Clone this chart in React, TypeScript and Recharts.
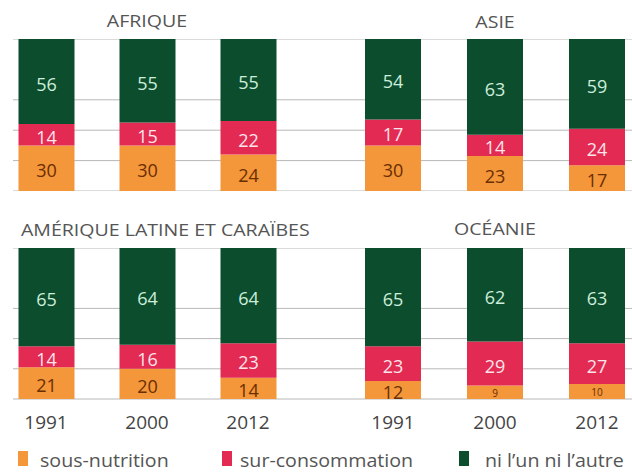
import React from "react";
import { Bar, BarChart, CartesianGrid, LabelList, XAxis, YAxis } from "recharts";

const years = ["1991", "2000", "2012"];

const afriqueSous = [30, 30, 24];
const afriqueSur = [14, 15, 22];
const afriqueNi = [56, 55, 55];

const asieSous = [30, 23, 17];
const asieSur = [17, 14, 24];
const asieNi = [54, 63, 59];

const ameriqueSous = [21, 20, 14];
const ameriqueSur = [14, 16, 23];
const ameriqueNi = [65, 64, 64];

const oceanieSous = [12, 9, 10];
const oceanieSur = [23, 29, 27];
const oceanieNi = [65, 62, 63];

const legendLabels = ["sous-nutrition", "sur-consommation", "ni l\u2019un ni l\u2019autre"];
const yTicks = [0, 20, 40, 60, 80, 100];

const ORANGE = "#f4963a";
const RED = "#e22a52";
const GREEN = "#0b4d2c";
const FONT = "'Open Sans', sans-serif";

const buildRows = (sous: number[], sur: number[], ni: number[]) =>
  years.map((year, i) => ({ year, sous: sous[i], sur: sur[i], ni: ni[i] }));

const segmentLabel = (color: string) => (props: any) => {
  const vb = props.viewBox || {};
  const x = props.x ?? vb.x;
  const y = props.y ?? vb.y;
  const w = props.width ?? vb.width;
  const h = props.height ?? vb.height;
  const small = props.value < 11;
  return (
    <text
      x={x + w / 2}
      y={y + h / 2}
      dy={small ? 1 : 2}
      textAnchor="middle"
      dominantBaseline="central"
      fontFamily={FONT}
      fontSize={small ? 10 : 18}
      fill={color}
    >
      {props.value}
    </text>
  );
};

interface PanelProps {
  sous: number[];
  sur: number[];
  ni: number[];
  left: number;
  top: number;
  width: number;
  plotHeight: number;
  padLeft: number;
  padRight: number;
  showYears: boolean;
}

function Panel({ sous, sur, ni, left, top, width, plotHeight, padLeft, padRight, showYears }: PanelProps) {
  const axisH = showYears ? 40 : 0;
  return (
    <div style={{ position: "absolute", left, top }}>
      <BarChart
        width={width}
        height={plotHeight + axisH}
        data={buildRows(sous, sur, ni)}
        margin={{ top: 0, right: 0, left: 0, bottom: 0 }}
        barSize={56}
      >
        <CartesianGrid stroke="#b8b8b8" strokeWidth={1} vertical={false} />
        <XAxis
          dataKey="year"
          hide={!showYears}
          height={axisH}
          padding={{ left: padLeft, right: padRight }}
          axisLine={false}
          tickLine={false}
          tickMargin={11}
          tick={{ fill: "#444", fontSize: 19, fontFamily: FONT }}
        />
        <YAxis hide domain={[0, 100]} ticks={yTicks} allowDataOverflow />
        <Bar dataKey="sous" stackId="a" fill={ORANGE} isAnimationActive={false}>
          <LabelList dataKey="sous" content={segmentLabel("#6a2e00")} />
        </Bar>
        <Bar dataKey="sur" stackId="a" fill={RED} isAnimationActive={false}>
          <LabelList dataKey="sur" content={segmentLabel("#fde4ea")} />
        </Bar>
        <Bar dataKey="ni" stackId="a" fill={GREEN} isAnimationActive={false}>
          <LabelList dataKey="ni" content={segmentLabel("#cdeedb")} />
        </Bar>
      </BarChart>
    </div>
  );
}

const textStyle: React.CSSProperties = {
  position: "absolute",
  fontFamily: FONT,
  fontSize: 17,
  color: "#555",
  whiteSpace: "nowrap",
  lineHeight: "20px",
};

const centred: React.CSSProperties = {
  transform: "translateX(-50%) scaleX(1.15)",
};
const stretched: React.CSSProperties = {
  transform: "scaleX(1.15)",
  transformOrigin: "left center",
};
const legendText: React.CSSProperties = {
  fontSize: 18,
  lineHeight: "22px",
  transform: "scaleX(1.09)",
  transformOrigin: "left center",
};

const legendColors = [ORANGE, RED, GREEN];
const legendSquareX = [18, 222, 459];
const legendTextX = [40, 240, 485];

export default function App() {
  return (
    <div
      style={{
        position: "absolute",
        left: 0,
        top: 0,
        width: 632,
        height: 473,
        overflow: "hidden",
        background: "#fff",
      }}
    >
      <div style={{ ...textStyle, ...centred, left: 147, top: 11 }}>AFRIQUE</div>
      <div style={{ ...textStyle, ...centred, left: 495, top: 12 }}>ASIE</div>
      <div style={{ ...textStyle, ...stretched, left: 21, top: 220 }}>AMÉRIQUE LATINE ET CARAÏBES</div>
      <div style={{ ...textStyle, ...centred, left: 495, top: 219 }}>OCÉANIE</div>

      <Panel sous={afriqueSous} sur={afriqueSur} ni={afriqueNi} left={13} top={39} width={307} plotHeight={152} padLeft={-17.5} padRight={21.5} showYears={false} />
      <Panel sous={asieSous} sur={asieSur} ni={asieNi} left={320} top={39} width={312} plotHeight={152} padLeft={22} padRight={-16} showYears={false} />
      <Panel sous={ameriqueSous} sur={ameriqueSur} ni={ameriqueNi} left={13} top={248} width={307} plotHeight={151} padLeft={-17.5} padRight={21.5} showYears />
      <Panel sous={oceanieSous} sur={oceanieSur} ni={oceanieNi} left={320} top={248} width={312} plotHeight={151} padLeft={22} padRight={-16} showYears />

      {legendLabels.map((label, i) => (
        <React.Fragment key={label}>
          <div
            style={{
              position: "absolute",
              left: legendSquareX[i],
              top: 451,
              width: 10,
              height: 15,
              background: legendColors[i],
            }}
          />
          <div style={{ ...textStyle, ...legendText, left: legendTextX[i], top: 449 }}>
            {label}
          </div>
        </React.Fragment>
      ))}
    </div>
  );
}
